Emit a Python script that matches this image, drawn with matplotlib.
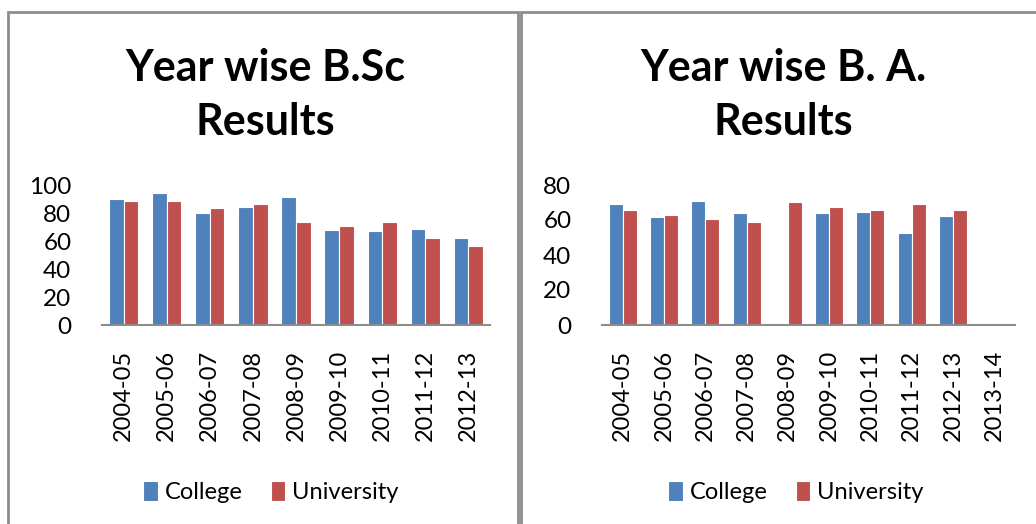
# Year wise B.Sc / B.A. results: college vs university
import numpy as np
import matplotlib.pyplot as plt
from matplotlib.patches import Rectangle

plt.rcParams['font.family'] = ['Lato', 'DejaVu Sans']

bsc_years = ['2004-05', '2005-06', '2006-07', '2007-08', '2008-09',
             '2009-10', '2010-11', '2011-12', '2012-13']
bsc_college = [89.8, 94, 79.8, 84, 91.7, 67.6, 66.9, 68.6, 62.1]
bsc_university = [88.8, 88.8, 83.3, 86.2, 73.3, 70.5, 73.3, 62.1, 56.7]

ba_years = ['2004-05', '2005-06', '2006-07', '2007-08', '2008-09',
            '2009-10', '2010-11', '2011-12', '2012-13', '2013-14']
ba_college = [69, 61.5, 71, 63.8, np.nan, 63.8, 64.4, 52.8, 62.3, np.nan]
ba_university = [65.9, 63, 60.8, 58.7, 70.3, 67.2, 65.9, 69, 65.9, np.nan]

blue = '#4F81BD'
red = '#C0504D'
W, H = 1036, 524

fig = plt.figure(figsize=(W / 100, H / 100), dpi=100)

# panel frames (pixel coords -> figure fraction)
def frame(x0, y0, x1, y1):
    fig.patches.append(Rectangle((x0 / W, 1 - y1 / H), (x1 - x0) / W, (y1 - y0) / H,
                                 transform=fig.transFigure, fill=False,
                                 edgecolor='#8c8c8c', linewidth=2))

frame(8, 12, 518, 540)
frame(521, 12, 1045, 540)


def panel(rect, years, college, university, ymax, yticks, title, title_x, leg_x):
    ax = fig.add_axes(rect)
    x = np.arange(len(years))
    w = 0.34
    ax.bar(x - w / 2, college, w, color=blue, edgecolor='white', linewidth=0.8, label='College')
    ax.bar(x + w / 2, university, w, color=red, edgecolor='white', linewidth=0.8, label='University')
    ax.set_xlim(-0.5, len(years) - 0.5)
    ax.set_ylim(0, ymax)
    ax.set_yticks(yticks)
    ax.set_xticks(x)
    ax.set_xticklabels(years, rotation=90, fontsize=17)
    ax.tick_params(axis='y', length=0, pad=22, labelsize=17.5)
    ax.tick_params(axis='x', length=0, pad=18)
    for s in ['top', 'right', 'left']:
        ax.spines[s].set_visible(False)
    ax.spines['bottom'].set_color('#8c8c8c')
    ax.spines['bottom'].set_linewidth(1.5)
    fig.text(title_x / W, 1 - 95 / H, title, ha='center', va='center',
             fontsize=31, fontweight='bold', linespacing=1.4)
    fig.legend(*ax.get_legend_handles_labels(), loc='center', ncol=2,
               bbox_to_anchor=(leg_x / W, 1 - 492 / H), frameon=False, fontsize=17,
               handlelength=0.6, handleheight=0.9, handletextpad=0.3, columnspacing=1.2)
    return ax


panel([102 / W, 1 - 325 / H, 388 / W, 140 / H], bsc_years, bsc_college, bsc_university,
      100, [0, 20, 40, 60, 80, 100], 'Year wise B.Sc\nResults', 265, 271)
panel([602 / W, 1 - 325 / H, 413 / W, 140 / H], ba_years, ba_college, ba_university,
      80, [0, 20, 40, 60, 80], 'Year wise B. A.\nResults', 783, 796)

fig.savefig('out.png', dpi=100)
